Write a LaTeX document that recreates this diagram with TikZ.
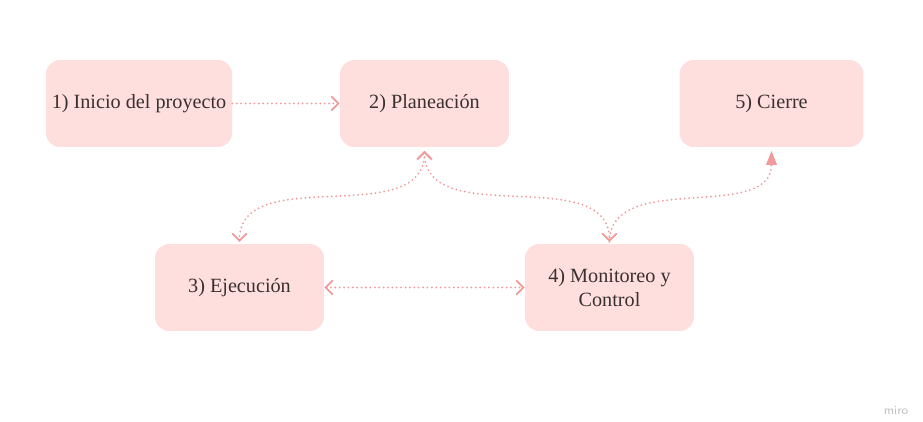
\documentclass[tikz,border=0pt]{standalone}
\usepackage{fontspec}
\setmainfont{Liberation Serif}
\usetikzlibrary{arrows.meta}
\definecolor{boxfill}{HTML}{FFDEDE}
\definecolor{linkred}{HTML}{F09A9A}
\definecolor{textdark}{HTML}{3A3030}
\begin{document}
\begin{tikzpicture}[x=0.02cm,y=-0.02cm,>={Straight Barb[length=4pt,width=8pt,line width=1pt,line cap=round]}]
        \tikzstyle{phase}=[rectangle,rounded corners=8pt,fill=boxfill,text=textdark,minimum width=3.68cm,minimum height=1.74cm,align=center,font=\fontsize{11.5}{13.5}\selectfont]
        \tikzstyle{edge}=[color=linkred,line width=1.15pt,dash pattern=on 0pt off 2.5pt,line cap=round]
        \useasboundingbox (0,0) rectangle (923,422);
       \begin{scope}
         \node [phase] (p1) at (139,103.5) {1) Inicio del proyecto};
         \node [phase,minimum width=3.38cm] (p2) at (424.5,103.5) {2) Planeación};
         \node [phase] (p5) at (771.5,103.5) {5) Cierre};
         \node [phase,minimum width=3.38cm] (p3) at (239.5,287.5) {3) Ejecución};
         \node [phase,minimum width=3.38cm] (p4) at (609.5,287.5) {4) Monitoreo y\\Control};
         \node [font=\sffamily\scriptsize,text=black!25] (brand) at (896,410) {miro};

         \path[edge] (p1) edge [->] (p2);
         \path[edge] ([yshift=-2pt]p2.south) edge [<->,out=-90,in=90] ([yshift=1pt]p3.north);
         \path[edge] ([yshift=-2pt]p2.south) edge [<->,out=-90,in=90] ([yshift=1pt]p4.north);
         \path[edge] ([yshift=1pt]p4.north) edge [-{Triangle[length=8pt,width=6pt]},out=90,in=-90] ([yshift=-2pt]p5.south);
         \path[edge] (p3) edge [<->] (p4);
        \end{scope}
      \end{tikzpicture}
\end{document}
